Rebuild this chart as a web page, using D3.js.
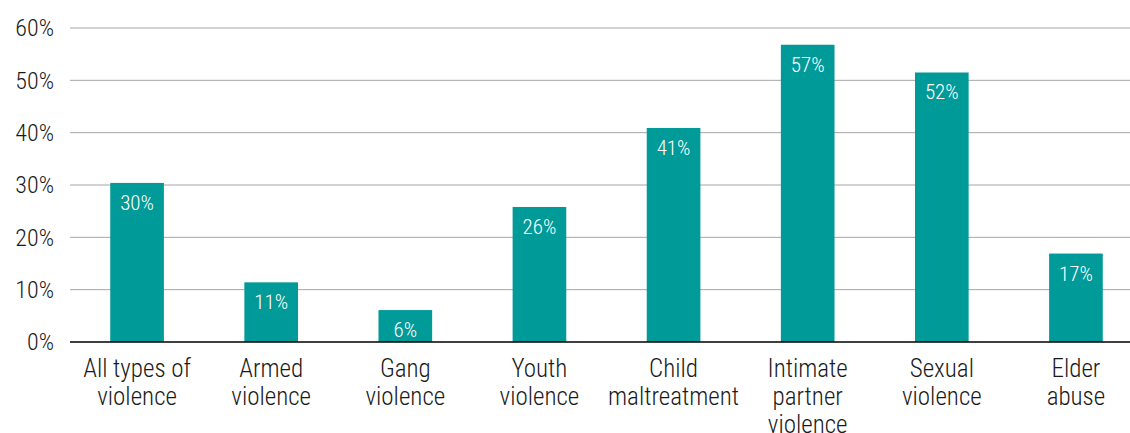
<!DOCTYPE html>
<html>
<head>
<meta charset="utf-8">
<script src="https://cdn.jsdelivr.net/npm/d3@7"></script>
<style>
  body { margin: 0; background: #fff; }
  svg text { font-family: "Roboto Condensed", "Liberation Sans Narrow", "DejaVu Sans Condensed", sans-serif; font-stretch: condensed; font-weight: 300; }
</style>
</head>
<body>
<svg id="chart" width="1130" height="433"></svg>
<script>
const categories = [
    ["All types of", "violence"],
    ["Armed", "violence"],
    ["Gang", "violence"],
    ["Youth", "violence"],
    ["Child", "maltreatment"],
    ["Intimate", "partner", "violence"],
    ["Sexual", "violence"],
    ["Elder", "abuse"]
];
const values = [30.4, 11.4, 6.1, 25.8, 40.9, 56.8, 51.5, 16.9];
const labels = ["30%", "11%", "6%", "26%", "41%", "57%", "52%", "17%"];
const yTicks = [0, 10, 20, 30, 40, 50, 60];

const width = 1130, height = 433;
const svg = d3.select("#chart");

const x = d3.scaleBand()
    .domain(d3.range(categories.length))
    .range([70, 1143])
    .paddingInner(0.6)
    .paddingOuter(0.3);

const y = d3.scaleLinear().domain([0, 60]).range([342, 28]);

// gridlines
svg.selectAll(".grid")
    .data(yTicks.filter(d => d > 0))
    .enter().append("line")
    .attr("x1", 70).attr("x2", width)
    .attr("y1", d => y(d)).attr("y2", d => y(d))
    .attr("stroke", "#a6a6a6")
    .attr("stroke-width", 1);

// y tick labels
svg.selectAll(".ytick")
    .data(yTicks)
    .enter().append("text")
    .attr("x", 54)
    .attr("y", d => y(d))
    .attr("dy", "0.35em")
    .attr("text-anchor", "end")
    .attr("font-size", 24)
    .attr("fill", "#1a1a1a")
    .text(d => d + "%");

// bars
svg.selectAll(".bar")
    .data(values)
    .enter().append("rect")
    .attr("x", (d, i) => x(i))
    .attr("width", x.bandwidth())
    .attr("y", d => y(d))
    .attr("height", d => y(0) - y(d))
    .attr("fill", "#009a98");

// value labels
svg.selectAll(".val")
    .data(values)
    .enter().append("text")
    .attr("x", (d, i) => x(i) + x.bandwidth() / 2)
    .attr("y", d => y(d) + 27)
    .attr("text-anchor", "middle")
    .attr("font-size", 21)
    .attr("fill", "#fff")
    .text((d, i) => labels[i]);

// baseline
svg.append("line")
    .attr("x1", 70).attr("x2", width)
    .attr("y1", y(0)).attr("y2", y(0))
    .attr("stroke", "#000")
    .attr("stroke-width", 1.5);

// category labels
const cat = svg.selectAll(".cat")
    .data(categories)
    .enter().append("text")
    .attr("text-anchor", "middle")
    .attr("font-size", 25)
    .attr("fill", "#1a1a1a")
    .attr("transform", (d, i) => `translate(${x(i) + x.bandwidth() / 2},377)`);

cat.selectAll("tspan")
    .data(d => d)
    .enter().append("tspan")
    .attr("x", 0)
    .attr("dy", (d, i) => i === 0 ? 0 : 28)
    .text(d => d);
</script>
</body>
</html>
